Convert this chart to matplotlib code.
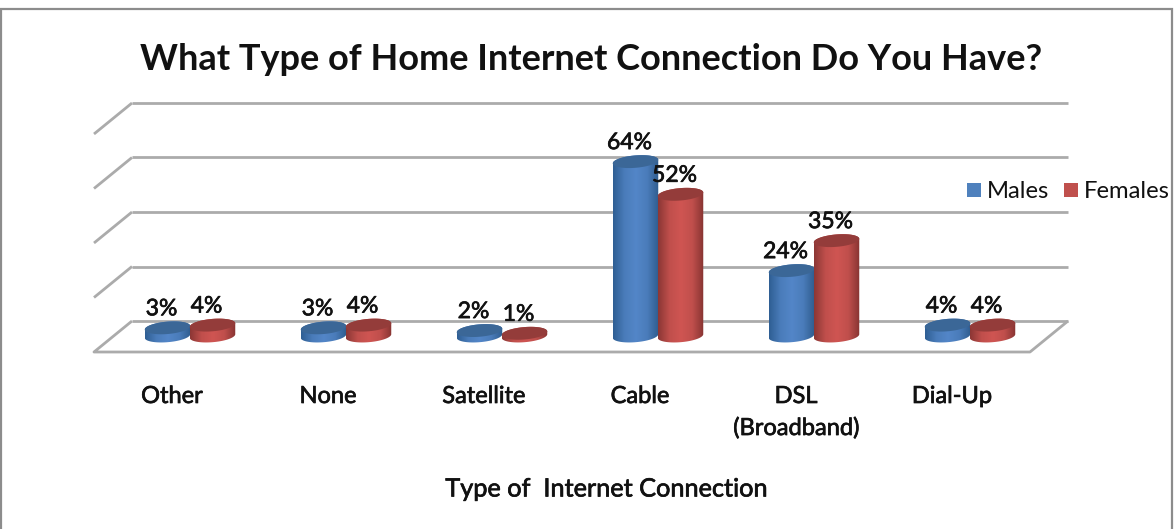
import numpy as np
from matplotlib import pyplot as plt
from matplotlib.patches import PathPatch, Rectangle, Patch
from matplotlib.path import Path
from matplotlib.colors import LinearSegmentedColormap
import matplotlib.patheffects as pe

plt.rcParams['font.family'] = ['Lato', 'DejaVu Sans']

categories = ['Other', 'None', 'Satellite', 'Cable', 'DSL\n(Broadband)', 'Dial-Up']
males = [3, 3, 2, 64, 24, 4]
females = [4, 4, 1, 52, 35, 4]
wall_ticks = [0, 20, 40, 60, 80]

title = 'What Type of Home Internet Connection Do You Have?'
x_title = 'Type of  Internet Connection'

# depth of the fake 3D box, in data units
PX_X = 1 / 156.0    # one pixel in category units
PX_Y = 1 / 2.725    # one pixel in percent units
WALL_LEFT = -58 * PX_X
WALL_RIGHT = 878 * PX_X
DEPTH_X = 38 * PX_X
WALL_LIFT = 15 * PX_Y
FRONT_DROP = 16 * PX_Y
BAR_W = 45.5 * PX_X
ELL_H = 6.2 * PX_Y
TILT = 1.8 * PX_Y

# the text in the original looks heavier than plain Lato
heavy = [pe.withStroke(linewidth=0.5, foreground='#111111')]


def ellipse(cx, cy, t):
    x = cx + BAR_W / 2 * np.cos(t)
    y = cy + ELL_H * np.sin(t) + TILT * np.cos(t)
    return x, y


def cylinder(ax, cx, value, cm, top_color, z):
    t_low = np.linspace(np.pi, 2 * np.pi, 60)
    t_up = np.linspace(0, np.pi, 60)
    bx, by = ellipse(cx, 0, t_low)
    tx, ty = ellipse(cx, value, t_up)
    verts = np.column_stack([np.r_[bx, tx], np.r_[by, ty]])
    body = PathPatch(Path(np.vstack([verts, verts[0]]), closed=True), fc='none', ec='none', zorder=z)
    ax.add_patch(body)
    grad = np.linspace(0, 1, 100).reshape(1, -1)
    im = ax.imshow(grad, cmap=cm, aspect='auto', zorder=z, interpolation='bilinear',
                   extent=(cx - BAR_W / 2, cx + BAR_W / 2, -ELL_H - TILT, value + ELL_H + TILT))
    im.set_clip_path(body)
    t = np.linspace(0, 2 * np.pi, 100)
    ex, ey = ellipse(cx, value, t)
    ax.fill(ex, ey, color=top_color, lw=0, zorder=z + 0.1)


blue_cm = LinearSegmentedColormap.from_list('b', ['#2f5f94', '#4a7cba', '#5386c8', '#4a7cba', '#2f5c8e'])
red_cm = LinearSegmentedColormap.from_list('r', ['#8c3735', '#c04f4c', '#cf5552', '#c04f4c', '#873432'])

fig = plt.figure(figsize=(11.76, 5.29), dpi=100)
ax = fig.add_axes([0, 0, 1, 1])
ax.axis('off')

# outer frame of the chart
fig.add_artist(Rectangle((1.5 / 1176, -0.01), 1170.5 / 1176, 1.01 - 8.5 / 529, fill=False,
                         ec='#8c8c8c', lw=1.6, transform=fig.transFigure))

line = dict(color='#ababab', lw=2.0, solid_capstyle='butt', zorder=1)
for v in wall_ticks:
    y = v + WALL_LIFT
    ax.plot([WALL_LEFT, WALL_RIGHT], [y, y], **line)
    if v == 0:
        continue
    ax.plot([WALL_LEFT - DEPTH_X, WALL_LEFT], [y - WALL_LIFT - FRONT_DROP, y], **line)

# floor
ax.plot([WALL_LEFT, WALL_LEFT - DEPTH_X, WALL_RIGHT - DEPTH_X, WALL_RIGHT],
        [WALL_LIFT, -FRONT_DROP, -FRONT_DROP, WALL_LIFT], **line)

pos = np.arange(len(categories))
for i in pos:
    cylinder(ax, i - 22.5 * PX_X, males[i], blue_cm, '#3b6797', 3)
    cylinder(ax, i + 22.5 * PX_X, females[i], red_cm, '#943c3a', 4)

for i in pos:
    ax.text(i - 28.5 * PX_X, males[i] + 19 * PX_Y, f'{males[i]}%', ha='center', va='center',
            fontsize=16.5, color='#111111', zorder=6, path_effects=heavy)
    ax.text(i + 16.5 * PX_X, females[i] + 19 * PX_Y, f'{females[i]}%', ha='center', va='center',
            fontsize=16.5, color='#111111', zorder=6, path_effects=heavy)
    ax.text(i - 18 * PX_X, -50 * PX_Y, categories[i], ha='center', va='top', fontsize=17,
            color='#111111', linespacing=1.6, path_effects=heavy)

ax.text(416 * PX_X, -153 * PX_Y, x_title, ha='center', va='center', fontsize=18.2,
        color='#111111', path_effects=heavy)
ax.text(401 * PX_X, 276 * PX_Y, title, ha='center', va='center', fontsize=26,
        fontweight='bold', color='#111111')

# axis limits come last, imshow resets them
ax.set_xlim(-190 * PX_X, 986 * PX_X)
ax.set_ylim(-193 * PX_Y, 336 * PX_Y)

ax.legend(handles=[Patch(fc='#4f81bd', label='Males'), Patch(fc='#c0504d', label='Females')],
          ncol=2, frameon=False, fontsize=17.2, handlelength=0.58, handleheight=0.58, handletextpad=0.25,
          columnspacing=0.63, loc='center right', bbox_to_anchor=(1170 / 1176, 1 - 192 / 529),
          bbox_transform=fig.transFigure, borderpad=0, borderaxespad=0, labelcolor='#111111')

fig.savefig('out.png', dpi=100)
